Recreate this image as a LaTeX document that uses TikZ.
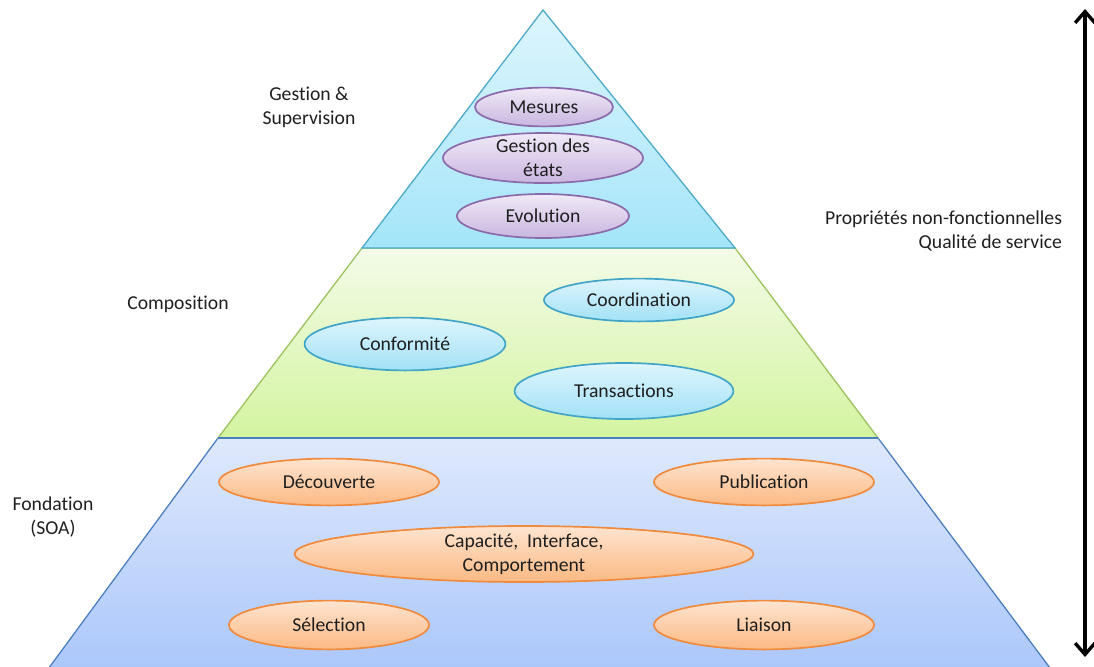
\documentclass[tikz,border=0pt]{standalone}
\usepackage{fontspec}
\setmainfont{Carlito}[Ligatures={NoCommon,NoContextual},RawFeature={-liga;-clig}]
\usetikzlibrary{shapes.geometric,arrows.meta}
\definecolor{sommetHaut}{HTML}{DDF5FD}
\definecolor{sommetBas}{HTML}{A4E5F9}
\definecolor{sommetBord}{HTML}{4AA8C8}
\definecolor{milieuHaut}{HTML}{F3FBE8}
\definecolor{milieuBas}{HTML}{D4F4A0}
\definecolor{milieuBord}{HTML}{9BC25A}
\definecolor{baseHaut}{HTML}{DFE9FD}
\definecolor{baseBas}{HTML}{A8C5FA}
\definecolor{baseBord}{HTML}{4A7EBF}
\definecolor{violetHaut}{HTML}{F0E9F7}
\definecolor{violetBas}{HTML}{C9B6DF}
\definecolor{violetBord}{HTML}{8A6AAA}
\definecolor{cyanHaut}{HTML}{DEF5FD}
\definecolor{cyanBas}{HTML}{A2E1F6}
\definecolor{cyanBord}{HTML}{42A5C8}
\definecolor{orangeHaut}{HTML}{FEE4D0}
\definecolor{orangeBas}{HTML}{FBB983}
\definecolor{orangeBord}{HTML}{F08A3C}
\begin{document}
\begin{tikzpicture}[x=0.025cm,y=-0.025cm,
    every node/.style={font=\fontsize{14}{17}\selectfont,text=black!88},
    bulle/.style={ellipse,draw,line width=1.2pt,inner sep=0pt,align=center},
    violet/.style={bulle,top color=violetHaut,bottom color=violetBas,draw=violetBord},
    cyan/.style={bulle,top color=cyanHaut,bottom color=cyanBas,draw=cyanBord},
    orange/.style={bulle,top color=orangeHaut,bottom color=orangeBas,draw=orangeBord}]
  \useasboundingbox (0,0) rectangle (1094,666);
  \clip (0,0) rectangle (1094,666);
  \draw[line width=0.9pt,draw=baseBord,top color=baseHaut,bottom color=baseBas]
    (218,438)--(878,438)--(1059,680)--(40,680)--cycle;
  \draw[line width=0.9pt,draw=milieuBord,top color=milieuHaut,bottom color=milieuBas]
    (362,248)--(735,248)--(878,438)--(218,438)--cycle;
  \draw[line width=0.9pt,draw=sommetBord,top color=sommetHaut,bottom color=sommetBas]
    (543,10)--(735,248)--(362,248)--cycle;
  \draw[line width=0.9pt,draw=baseBord] (218,438)--(878,438);
  \node[violet,minimum width=3.45cm,minimum height=0.97cm] (mesures) at (544,107) {Mesures};
  \node[violet,minimum width=5cm,minimum height=1.25cm,inner ysep=-3pt] (etats) at (543,158) {Gestion des\\états};
  \node[violet,minimum width=4.3cm,minimum height=1.1cm] (evolution) at (543,216) {Evolution};
  \node[cyan,minimum width=4.75cm,minimum height=1.07cm] (coordination) at (639,300) {Coordination};
  \node[cyan,minimum width=5.02cm,minimum height=1.32cm] (conformite) at (405,344) {Conformité};
  \node[cyan,minimum width=5.47cm,minimum height=1.4cm] (transactions) at (624,391) {Transactions};
  \node[orange,minimum width=5.5cm,minimum height=1.17cm] (decouverte) at (329,482) {Découverte};
  \node[orange,minimum width=5.5cm,minimum height=1.17cm] (publication) at (764,482) {Publication};
  \node[orange,minimum width=11.47cm,minimum height=1.4cm,inner ysep=-3pt] (capacite) at (524,554) {Capacité,~ Interface,\\Comportement};
  \node[orange,minimum width=5cm,minimum height=1.22cm] (selection) at (329,625) {Sélection};
  \node[orange,minimum width=5.5cm,minimum height=1.22cm] (liaison) at (764,625) {Liaison};
  \node[align=center] (gestion) at (309,107) {Gestion \&\\Supervision};
  \node (composition) at (178,304) {Composition};
  \node[align=center] (fondation) at (53,517) {Fondation\\(SOA)};
  \node[align=right,anchor=east] (qualite) at (1067,231) {Propriétés non-fonctionnelles\\Qualité de service};
  \coordinate (haut) at (1085,9);
  \coordinate (bas) at (1085,657);
  \draw[line width=2.4pt,{Straight Barb[length=8pt,width=14pt]}-{Straight Barb[length=8pt,width=14pt]}] (haut)--(bas);
\end{tikzpicture}
\end{document}
